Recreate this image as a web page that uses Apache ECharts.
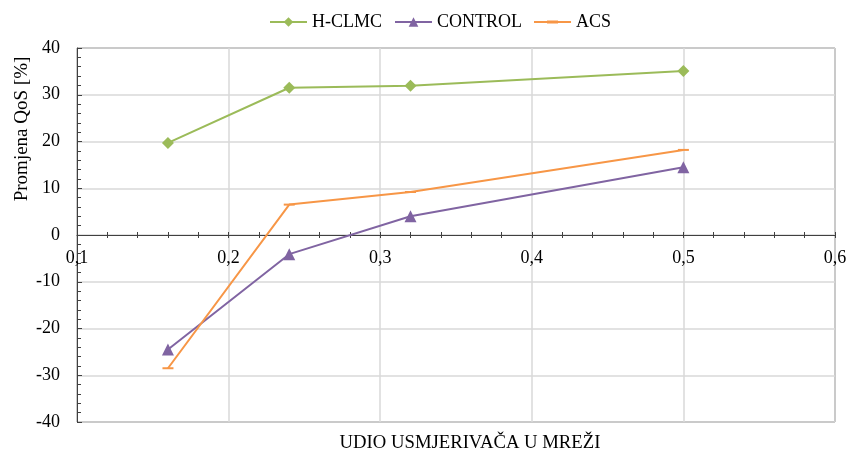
<!DOCTYPE html>
<html>
<head>
<meta charset="utf-8">
<script src="https://cdn.jsdelivr.net/npm/echarts@6/dist/echarts.min.js"></script>
<style>html,body{margin:0;padding:0;background:#fff;}#c{width:847px;height:450px;}</style>
</head>
<body>
<div id="c"></div>
<script>
var xValues = [0.16, 0.24, 0.32, 0.5];
var hclmc = [19.7, 31.5, 31.9, 35.1];
var control = [-24.5, -4.1, 4.0, 14.5];
var acs = [-28.5, 6.5, 9.2, 18.2];
var seriesNames = ['H-CLMC', 'CONTROL', 'ACS'];
var xTitle = 'UDIO USMJERIVAČA U MREŽI';
var yTitle = 'Promjena QoS [%]';

function pairs(ys){ return xValues.map(function(x,i){ return [x, ys[i]]; }); }
var font = 'Liberation Serif';
var axisColor = '#404040';
var gridTop = 48, gridBottom = 28, chartH = 450;
var yMin = -40, yMax = 40;
// pixel distance from grid bottom edge to the y=0 line
var zeroOffset = (0 - yMin) / (yMax - yMin) * (chartH - gridTop - gridBottom);
var chart = echarts.init(document.getElementById('c'));
chart.setOption({
  animation: false,
  textStyle: {fontFamily: font},
  grid: {left: 77, right: 12, top: gridTop, bottom: gridBottom, show: true, borderColor: axisColor, borderWidth: 1, containLabel: false, outerBoundsMode: 'none'},
  legend: {
    top: 8, left: 264, itemWidth: 37, itemHeight: 12, itemGap: 12,
    textStyle: {fontFamily: font, fontSize: 18, color: '#000'},
    data: [
      {name: seriesNames[0]},
      {name: seriesNames[1]},
      {name: seriesNames[2], icon: 'path://M0,5h37v2h-37z M13,4.5h11v3h-11z'}
    ]
  },
  title: {
    text: xTitle, left: 465, top: 429, textAlign: 'center',
    textStyle: {fontFamily: font, fontSize: 18.7, fontWeight: 'normal', color: '#000'}
  },
  graphic: [{
    type: 'text', x: 22, y: 129, rotation: Math.PI / 2,
    style: {text: yTitle, font: '19px "Liberation Serif"', align: 'center', verticalAlign: 'middle', fill: '#000'}
  }],
  xAxis: [{
    type: 'value', min: 0.1, max: 0.6, interval: 0.1,
    axisLine: {onZero: true, lineStyle: {color: axisColor, width: 1}},
    axisTick: {show: true, length: 3, lineStyle: {color: axisColor}},
    minorTick: {show: true, splitNumber: 5, length: 3, lineStyle: {color: axisColor}},
    axisLabel: {show: false},
    splitLine: {show: true, lineStyle: {color: '#D9D9D9', width: 1.5}}
  }, {
    type: 'value', min: 0.1, max: 0.6, interval: 0.1, position: 'bottom', offset: -zeroOffset,
    axisLine: {show: false, onZero: false},
    axisTick: {show: true, inside: true, length: 3, lineStyle: {color: axisColor}},
    minorTick: {show: true, splitNumber: 5, length: 3, lineStyle: {color: axisColor}},
    axisLabel: {margin: 14, fontSize: 18, color: '#000', fontFamily: font,
      formatter: function(v){ return v.toFixed(1).replace('.', ','); }},
    splitLine: {show: false}
  }],
  yAxis: {
    type: 'value', min: yMin, max: yMax, interval: 10,
    axisLine: {show: true, onZero: false, lineStyle: {color: axisColor, width: 1}},
    axisTick: {show: true, inside: true, length: 5, lineStyle: {color: axisColor}},
    minorTick: {show: true, splitNumber: 5, length: 4, lineStyle: {color: axisColor}},
    axisLabel: {margin: 17, fontSize: 18, color: '#000', fontFamily: font},
    splitLine: {show: true, lineStyle: {color: '#D9D9D9', width: 1.5}}
  },
  series: [{
    name: seriesNames[0], type: 'line', data: pairs(hclmc),
    symbol: 'diamond', symbolSize: 12,
    lineStyle: {color: '#9BBB59', width: 2}, itemStyle: {color: '#9BBB59'}
  }, {
    name: seriesNames[1], type: 'line', data: pairs(control),
    symbol: 'triangle', symbolSize: 12,
    lineStyle: {color: '#8064A2', width: 2}, itemStyle: {color: '#8064A2'}
  }, {
    name: seriesNames[2], type: 'line', data: pairs(acs),
    symbol: 'rect', symbolSize: [11, 2],
    lineStyle: {color: '#F79646', width: 2}, itemStyle: {color: '#F79646'}
  }]
});
</script>
</body>
</html>
